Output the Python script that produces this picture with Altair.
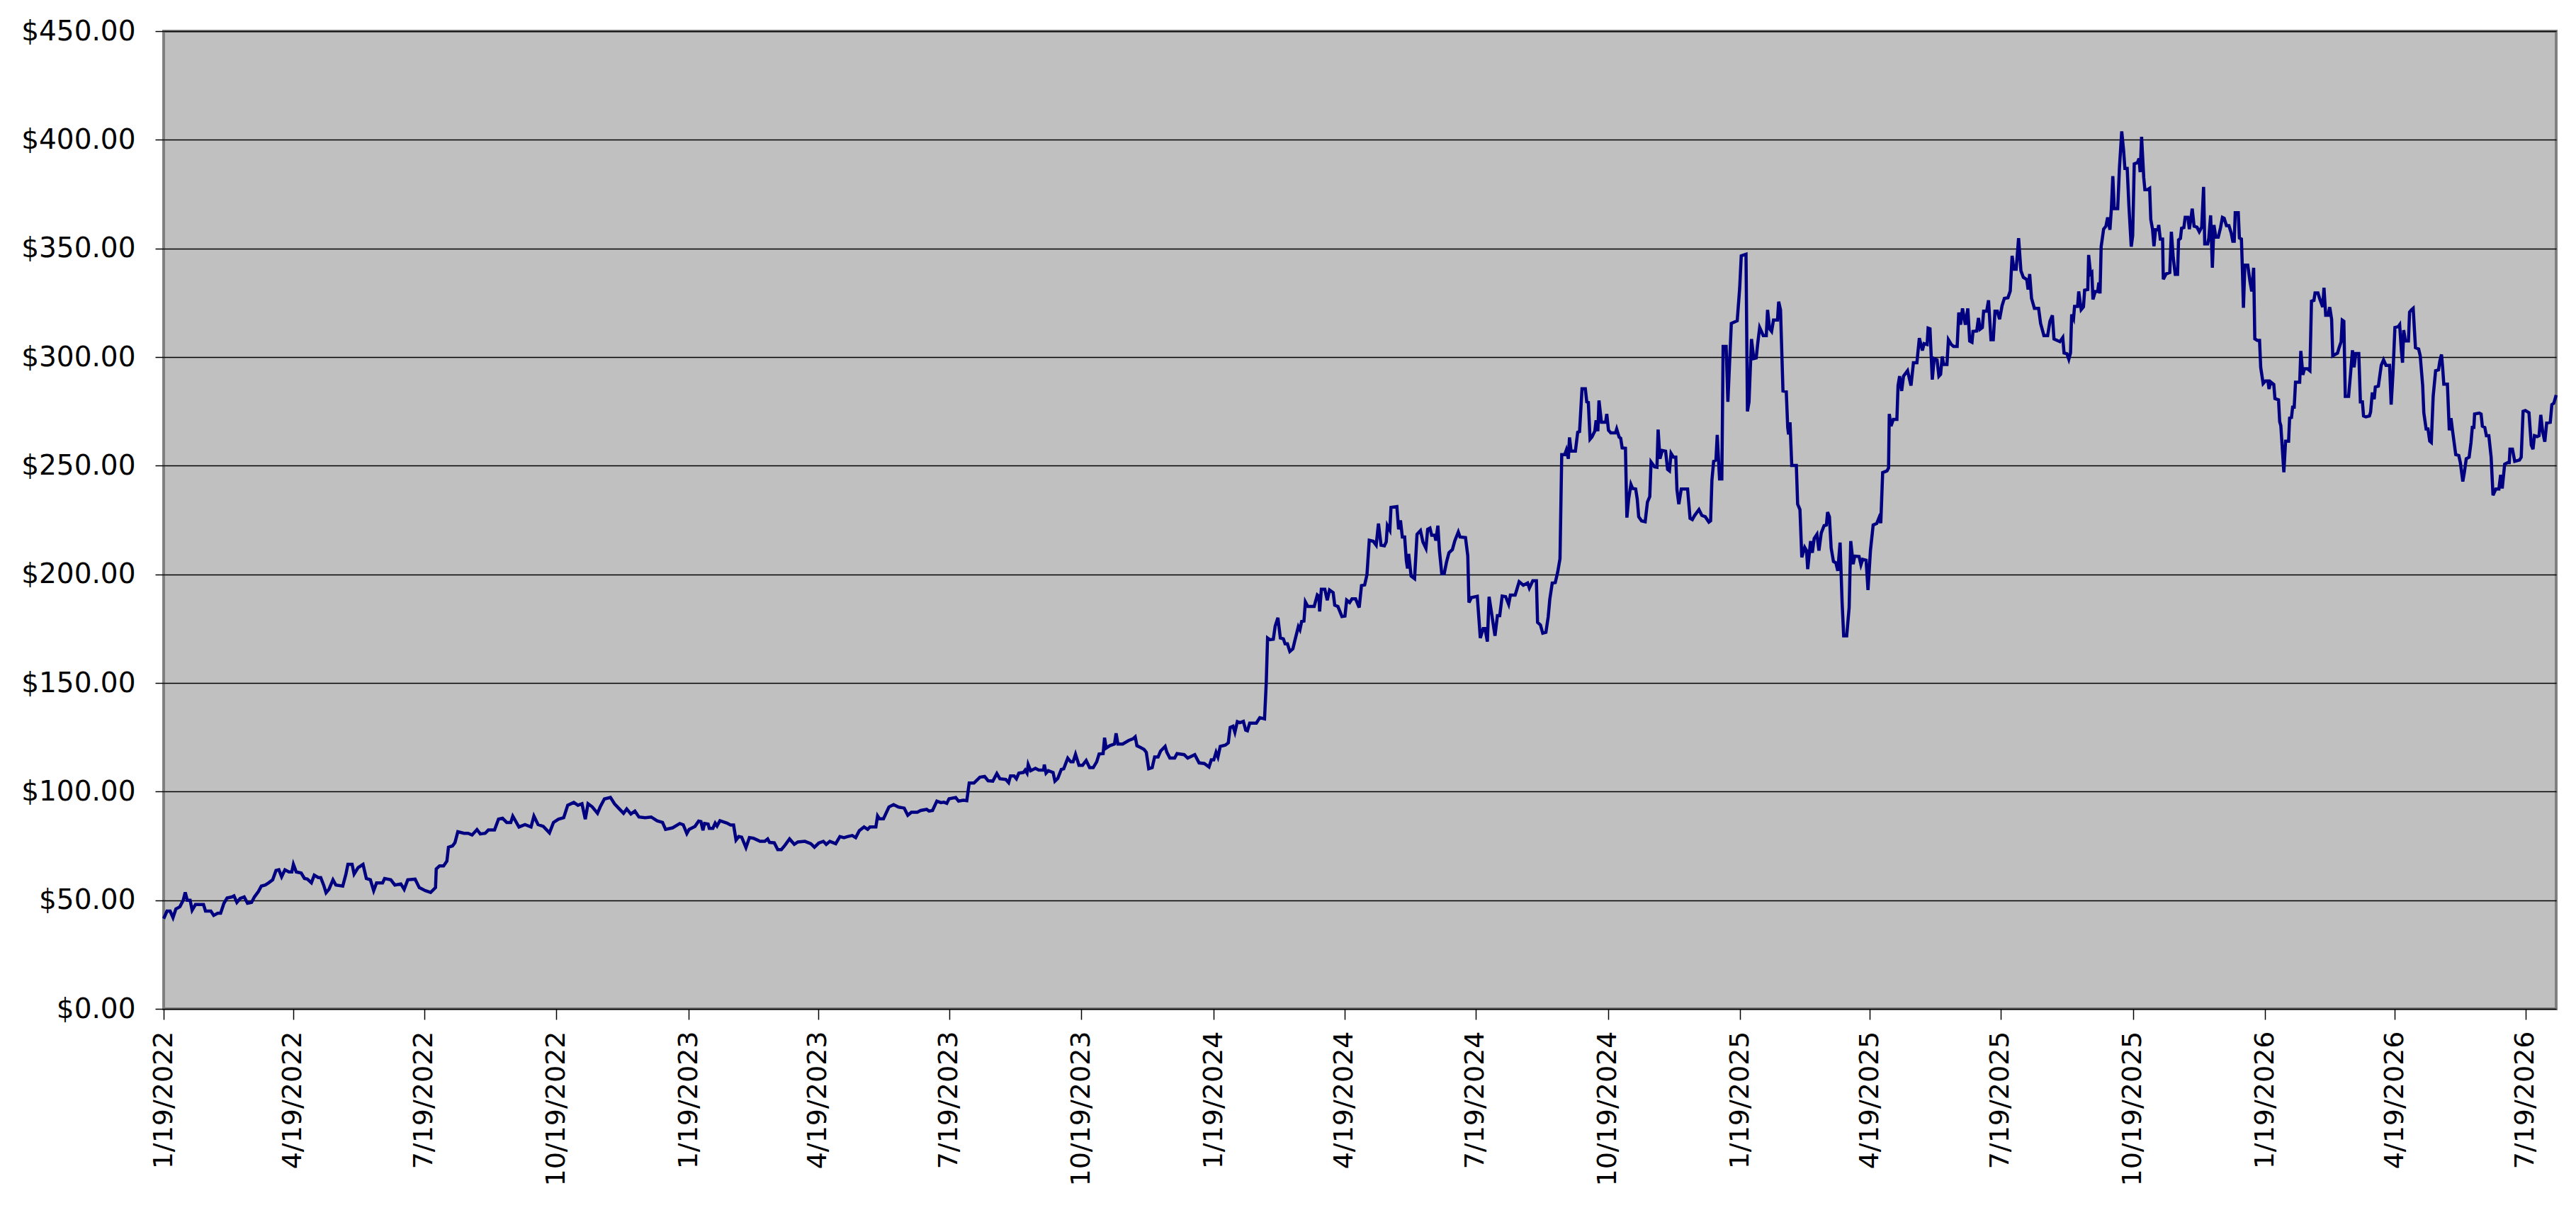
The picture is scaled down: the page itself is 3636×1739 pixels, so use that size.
import altair as alt
import pandas as pd

START_DATE = "2022-01-19"

# day offsets from START_DATE and closing prices, by period
days_a = [0, 2.3, 4.5, 6.5, 8.5, 11.3, 13.6, 15, 16.4, 18.4, 19.8, 22.1, 24.9, 27.7, 29.1, 32.8, 34.8, 37.6, 39.6,
          41.9, 44.1, 47.5, 48.9, 50.9, 53.2, 56, 58.3, 61.1, 63.1, 65.9, 67.9, 70.7, 73, 75.8, 78.1, 80.1, 82,
          84.3, 87.1, 89.1, 90.2, 92.2, 95.6, 97.9, 99.9, 102.7, 104.7, 107.5, 109.2, 111.2, 112.9, 114.9, 117.7,
          119.7, 124.5, 126.7, 128.1, 131, 132.4, 135.2, 138.6, 140.9, 143.7, 146, 148, 152.2, 153.6, 157.9,
          160.7, 164.9, 167.2, 169.7, 174.8, 177.7, 181.9, 185.6, 189, 189.5, 191.8, 194.6, 196.9, 198, 200.8,
          202.5, 204.5, 208.8, 211.6, 214.4, 217.8, 220.1, 223.5, 225.7, 230, 232.8, 235.6, 238.5, 241.3, 242.7,
          247, 251.2, 255.4, 257.4, 260.3, 263.9, 268.2, 271, 274.4, 278.1, 280.9, 285.1, 288, 290.8, 293.1, 295,
          297.9, 301.6, 303.5, 306.4, 310.6, 313.4, 316.8, 319.7, 321.9, 324.8, 327.6, 330.4, 334.7, 338.9,
          343.1, 346.8]
price_a = [41.5, 45, 45, 42, 46, 47, 50, 53.6, 50, 50, 45.4, 48, 48, 48, 45, 45, 43, 44, 44,
           48.6, 51, 51.5, 52, 49, 50.8, 51.5, 48.6, 49, 51.5, 54, 56.5, 57, 58, 59.4, 63.7, 64, 60.8,
           64, 63, 63, 66.5, 63, 62.5, 60, 59.7, 58, 61.5, 60.4, 60.4, 57, 53.4, 55, 59.4,
           57, 56.5, 62, 66.5, 66.5, 62, 65, 66.5, 60, 59.4, 54.4, 58, 58, 60, 59.4,
           57, 57.5, 55, 59.4, 59.7, 55.8, 54.4, 53.6, 55.8, 64.4, 65.8, 65.8, 68, 74.4, 75,
           76.5, 81.5, 80.8, 80.8, 80, 82.5, 80.5, 80.8, 82.3, 82.3, 87.3, 87.7, 85.8, 85.8, 88.7,
           83.7, 84.8, 83.7, 88.7, 84.8, 84, 81, 85.8, 87.3, 88, 93.7, 95, 93.7, 94.4, 87.3, 94.4,
           93, 90, 93, 96.6, 97.3, 94.4, 92, 90, 92, 89.7, 91, 88.3, 88, 88.3,
           86.5, 85.8]

days_b = [348.9, 353.8, 358.8, 361.2, 363.7, 365.3, 369.4, 371.9, 373.5, 374.9, 376, 378.5, 379.3, 381.8,
          383.4, 384.7, 386.7, 391.6, 394.1, 396.2, 397.9, 399.8, 401.8, 404.8, 407.2, 410, 412.1, 414.6,
          417.9, 419.9, 421.2, 424.5, 426.9, 429.4, 431.9, 435.1, 438.4, 440.9, 445.8, 449.9, 452.4, 455.4,
          458.6, 460.6, 463.1, 467.2, 470.1, 472.9, 475.4, 478.7, 481.1, 483.6, 486.9, 489.4, 491, 495.1,
          496.3, 497.6, 500.4, 504.2, 507.4, 510.7, 514.8, 517.3, 519.8, 523.9, 526.3, 530.4, 532.1, 534.5,
          537.5, 540.3, 542.4, 544.4, 546, 550.6, 552.6, 555.9]
price_b = [82.6, 83.3, 85.3, 84.7, 80.7, 82.6, 84, 86.4, 86.2, 82.2, 85.3, 85, 83.1, 83.1,
           85.5, 84.2, 86.6, 85.5, 84.6, 84.6, 77.7, 79.3, 79, 74.2, 78.8, 78.5, 77.9, 77.1,
           77.1, 78.2, 76.6, 76.4, 73.3, 73.3, 75.3, 78.2, 75.7, 76.8, 77.1, 76, 74.4, 76.3,
           77.1, 75.7, 77.1, 76, 79.3, 78.8, 79.3, 79.8, 78.8, 82, 83.7, 82.6, 83.7, 83.7,
           88.8, 87.5, 87.5, 92.9, 94, 92.9, 92.4, 89.1, 90.5, 90.5, 91.3, 91.8, 91, 91.3,
           95.6, 94.9, 95.1, 94.6, 96.7, 97.3, 95.6, 96]

days_c = [558.3, 560, 563.3, 567.4, 570.7, 573.1, 576.4, 579.2, 581.3, 585.4, 587.4, 588.7, 591.2, 592.8,
          594.5, 597.7, 598.9, 600.2, 601, 602.7, 606, 608.4, 611.7, 612.2, 613.4, 615, 618.3, 619.6, 621.6,
          624, 625.7, 628.5, 630.6, 632.2, 633.9, 636.3, 638.8, 641.3, 643.7, 646.2, 648.6, 650.3, 653.1,
          654.1, 655.2, 657.7, 661, 662.1, 663.4, 666.7, 670.8, 674.1, 675.4, 676.6, 679, 681.5, 683.1, 684.8,
          687.2, 688.9, 691.3, 693, 696.2, 697.4, 699.5, 702.8, 704.5, 709.4, 711.9, 716.8, 719.8, 723.4,
          726.7, 728.3, 730, 731.6, 732.9, 734.5, 738.1, 740.1, 741.4, 743.4, 744.7, 746.4]
price_c = [95.8, 103.9, 103.9, 106.6, 107, 105, 104.8, 108.3, 105.9, 105.6, 104.1, 107.2, 107.2, 105.9,
           108.5, 108.8, 109.9, 108.5, 112.4, 109.6, 110.7, 109.9, 109.9, 112.4, 108.5, 109.6, 108.8, 104.8, 106.1,
           110.2, 110.5, 115.4, 113.7, 113.7, 117.2, 112.1, 112.1, 114.3, 111, 111, 113.7, 117.3, 117.5,
           124.8, 120, 121.1, 121.9, 126.8, 121.9, 121.9, 123.5, 124.4, 125.2, 121.1, 120.3, 119.4, 118.1, 110.5,
           111, 115.9, 115.9, 118.6, 120.8, 118.1, 115.4, 115.4, 117.5, 117, 115.4, 117, 113.2, 112.9,
           111.3, 114.6, 114.6, 118.1, 115.9, 120.8, 121.4, 122.4, 129.5, 130.1, 127.3, 132.2]

days_d = [748.1, 750.6, 752.2, 753.4, 755, 759.6, 762, 765.3, 766.5, 767.4, 769.1, 771.4, 772.7, 774.6,
          776.3, 778.4, 779.6, 781.2, 782.9, 785, 786.6, 788.8, 789.9, 791.1, 792.7, 793.7, 795.4, 799.8, 802,
          803.1, 803.6, 804.8, 807.2, 808.9, 810.5, 813, 814.1, 816.3, 819.1, 821.2, 822.4, 824.5, 826.1,
          828.6, 831.1, 832.7, 834.9, 836.5, 838.1, 840.9, 842.9, 844.5, 846.3, 848.6, 849.9, 850.7, 852.4,
          853.2, 857.3, 858.5, 859.8, 861.1, 862.7, 863.9, 864.7, 865.5, 867.2, 869.6, 871.3, 873.7, 875.4,
          877.5, 878.7, 880.3, 881.5, 883.6, 884.4, 885.8, 886.9, 888.5, 890.2, 891.8, 893.5, 895.9, 897.6,
          900, 901.2, 905, 906.6, 907.4, 909.1, 913.2, 915.3, 917.3, 918.6, 920.2, 921.4]
price_d = [131.7, 132.3, 128.3, 128, 131.5, 131.5, 134, 133.5, 150.3, 170.7, 169.9, 170.1, 176.2, 180,
           170.7, 170.3, 168, 168, 164.5, 165.7, 170.1, 175.9, 174.5, 178.3, 178.5, 187.3, 185.2, 185.2, 190.5,
           189.9, 182.9, 193.1, 193.1, 188.1, 192.8, 191.6, 185.8, 185.2, 180.6, 180.8, 188.1, 187, 188.7,
           188.7, 184.7, 194.8, 195.1, 199.8, 215.7, 215.2, 213.4, 223.4, 213.4, 213.1, 214.9, 222.4, 220.3,
           230.8, 231.2, 220.7, 224.8, 217.2, 217.2, 206.2, 202.7, 209.4, 199.2, 198, 218.4, 220.1, 214.9,
           212, 220.7, 221.3, 218, 218, 215.5, 222.4, 210.8, 200.3, 200.3, 205.6, 209.9, 211.4, 215.5,
           219.5, 217.2, 216.9, 208.5, 187, 189.3, 189.9, 170.7, 175, 175, 169, 189.7]

days_e = [925.5, 927.2, 928.8, 930.5, 932.9, 935, 936.2, 939.5, 940.6, 942.3, 945.2, 948.2, 949.4, 951.8,
          954.3, 955.1, 957.1, 958.7, 960.9, 962.5, 963.6, 965.3, 967.4, 969.1, 970.7, 971.9, 974, 975.1,
          976.5, 977.3, 978.4, 981.4, 983, 984.3, 986, 988.3, 989.3, 990.4, 991.6, 992.9, 994.9, 995.8, 997,
          997.8, 999.5, 1002.4, 1003.2, 1004.4, 1006, 1009.3, 1010.1, 1011.8, 1012.9, 1013.9, 1016.2, 1017.2,
          1018.4, 1020, 1021.2, 1023.3, 1024.4, 1025.4, 1027.4, 1029.9, 1031.5, 1033.1, 1034, 1036.4, 1038.1,
          1038.9, 1040.2, 1041.8, 1044.1, 1045.5, 1046.8, 1047.9, 1049.6, 1051.2, 1052, 1053.3, 1055, 1059.4,
          1061.1, 1062.7, 1064.3, 1067.3, 1069.3, 1071.7, 1074.2, 1075.4, 1076.3, 1077.5, 1079.1, 1080, 1081.6,
          1083.2, 1084.1, 1086.2, 1087.4, 1089.8, 1093.9, 1095.6, 1096.7, 1100, 1101, 1102.1, 1103.8, 1105.4,
          1107.1, 1108.2, 1109.5, 1112, 1114.1, 1115, 1116.4]
price_e = [171.7, 181, 181, 190, 189.7, 186.2, 190.4, 190.4, 192.8, 196.6, 195, 196, 193.7, 197,
           197, 177.9, 176.7, 172.9, 173.3, 180.4, 188.5, 196, 196.2, 201, 207.2, 255.1, 255.1, 257.2,
           253.2, 263, 256.7, 256.7, 265.4, 265.7, 285.4, 285.4, 279.4, 279.1, 262.2, 263.2, 265.9, 270.9, 265.9,
           280, 270, 270, 273.8, 266.3, 265.1, 265.1, 266.9, 263.2, 262.6, 258.2, 258, 226.1,
           234.6, 241.4, 239.5, 239.3, 234.6, 226.5, 224.6, 224.2, 233.3, 235.8, 251.7, 249.5, 249.3,
           266.6, 253.2, 257, 256.7, 248.3, 247.6, 255.7, 253.9, 253.9, 238.9, 232.3, 239.3, 239.3,
           225.8, 225.2, 227.1, 229.8, 227.1, 226.5, 224, 224.6, 243.3, 252, 252.6, 264.2, 243.9,
           243.9, 304.9, 304.9, 279.4, 315.5, 316.7, 331.7, 346.6, 347.3, 275, 279.4, 308.3, 299.3,
           299.6, 306.5, 313.6, 309.9, 309.9, 321.7, 313]

days_f = [1117.8, 1119.1, 1121.9, 1122.7, 1124, 1125.7, 1128, 1129, 1129.6, 1130.6, 1131.8, 1135, 1135.9,
          1137.5, 1138.8, 1140.8, 1142.1, 1142.9, 1144.9, 1146.1, 1147.4, 1149.3, 1150.7, 1152.3, 1154.3,
          1155.9, 1156.7, 1158, 1159.2, 1160.8, 1162.5, 1163.8, 1165.4, 1166.8, 1167.9, 1170, 1171.7, 1172.8,
          1174.5, 1175.6, 1178.6, 1179.9, 1181.1, 1183.5, 1184.8, 1186.5, 1188.4, 1190.9, 1192.5, 1193.7, 1195,
          1198, 1199.1, 1199.6, 1200.8, 1202.4, 1204.9, 1205.7, 1206.8, 1208.2, 1209.5, 1212.3, 1214.7, 1216.4,
          1218.8, 1220.5, 1222.6, 1223.8, 1225.9, 1226.6, 1227.9, 1229.5, 1230.8, 1232.8, 1234.1, 1235.3,
          1236.4, 1237.4, 1239.7, 1240.7, 1242.7, 1244.3, 1246.8, 1247.9, 1249.2, 1250.5, 1252.5, 1254.2,
          1255.5, 1257.1, 1257.8, 1260.4, 1261.6, 1262.7, 1264.3, 1265.2, 1267.3, 1268.6, 1270.3, 1271.9,
          1273.1, 1274.7, 1276.3, 1278, 1279.6, 1282.1, 1283.7, 1285, 1286.2, 1287.8, 1289.5, 1291.1, 1292.8,
          1295.2, 1296.1, 1297.2, 1298.5, 1300.5, 1303.4, 1304.8, 1307.1, 1309.7, 1311.3, 1313, 1314.1]
price_f = [311.8, 317, 317, 325.5, 321.7, 284.4, 284.1, 267.6, 264.4, 270, 250.1, 250.1, 232.3,
           229.8, 207.8, 212.4, 210.9, 202.4, 215.3, 209.9, 216.5, 218.4, 210.9, 219, 222.4,
           222.7, 228.6, 226.5, 212.1, 205.9, 205.3, 201.6, 214.6, 187.2, 171.7, 171.7, 184.7, 215.3,
           204.7, 208.4, 208.2, 204.4, 206.9, 206.5, 192.8, 210.9, 222.7, 223.4, 226.1, 223.6, 246.8,
           247.6, 248.9, 273.8, 268.2, 271.3, 271.3, 286.9, 291.2, 284.4, 291.2, 293.7, 286.9, 297.4,
           297.4, 308.7, 303, 306.2, 305.8, 313.3, 313, 289.6, 299.3, 298.7, 291.2, 292.1,
           300.3, 296.6, 296.6, 308, 305.8, 304.9, 304.9, 320.5, 314.9, 322.4, 314.9, 322.4,
           307.4, 306.8, 311.8, 312, 318, 312.8, 313.6, 321.1, 321.1, 326.1, 308, 308,
           321.1, 321.1, 317.4, 323.6, 327, 327.3, 330.4, 346.6, 340.4, 340.4, 354.7, 339.8, 336.7,
           335.7, 331.1, 338.2, 327, 322.4, 322.4, 315.5, 309.9, 309.9, 316.5, 319.2, 308.3]

days_g = [1318.2, 1320.2, 1321.1, 1323.1, 1324.4, 1325.6, 1326.4, 1327.7, 1328.4, 1330.5, 1331.3, 1333,
          1334.6, 1335.4, 1337.6, 1338.2, 1339.5, 1340.4, 1341.2, 1342.8, 1344.5, 1345.3, 1346.1, 1346.9,
          1348.6, 1350.2, 1351.4, 1353, 1354, 1355, 1356, 1358.4, 1359.6, 1361.2, 1362.5, 1363.4, 1365, 1366.2,
          1367.8, 1368.8, 1369.9, 1372.1, 1373.2, 1374, 1375, 1376.5, 1377.3, 1379, 1380.6, 1381.4, 1382.6,
          1383.6, 1384.7, 1386.4, 1386.9, 1388, 1389.6, 1390.1, 1392.1, 1394.6, 1395.7, 1397, 1398.4, 1400,
          1400.7, 1402, 1402.8, 1404.4, 1405.3, 1407.2, 1408.2, 1409.4, 1410.2, 1411.5, 1413.5, 1415.1, 1416.8,
          1418.1, 1418.9, 1420.9, 1421.7, 1423, 1424.2, 1425.3, 1426.6, 1428.3, 1429.9, 1431.2, 1432.4, 1434,
          1435.7, 1437.3, 1438.4, 1439.4, 1440.1, 1442.2, 1443, 1444.4, 1445, 1445.8, 1446.8, 1448.8, 1450.4,
          1451.6, 1452.9, 1453.7, 1455.4, 1457, 1457.8, 1459.5, 1461.1, 1462.8, 1463.6, 1464.7, 1466.9,
          1467.7, 1470.2, 1471, 1471.8]
price_g = [307.1, 309, 301.9, 301.5, 299, 301.9, 319.6, 317.7, 323.3, 323.3, 330.2, 321.8,
           323.1, 330.8, 331.1, 347, 338.3, 338.9, 326.5, 330.2, 330.2, 334.3, 329.3, 350.8,
           358.9, 360.2, 364.3, 358.6, 368.3, 383.3, 368.3, 368.3, 387, 403.9, 395.1, 386.8, 386.8, 369.5,
           350.8, 355.8, 388.9, 389.5, 391.4, 385.1, 401.4, 382.6, 377, 377, 377.7, 363.3, 358.9,
           351, 358.6, 358.6, 360.8, 354.3, 354.3, 335.8, 338.3, 338.9, 357.7, 345.8, 338.1, 338.1,
           353.9, 354.6, 359.3, 359.6, 364.3, 364.3, 358.9, 364.3, 368.3, 360.2, 359.8, 357.7, 359.8,
           378.3, 352.1, 352.1, 354.6, 365.2, 341.1, 360.8, 355.2, 355.2, 359.6, 364.3, 363.9, 360.5,
           360.5, 357.1, 353.3, 353.3, 366.4, 366.4, 354.8, 354.3, 342.1, 322.7, 342.3, 342.3, 334.6,
           330.2, 341.1, 308.4, 307.7, 307.7, 295.3, 287.8, 289, 289, 285.3, 288.6, 287.4,
           280.9, 280.3, 270.3, 268.4]

days_h = [1473.9, 1475.1, 1477.2, 1477.9, 1479.2, 1480, 1481.1, 1482, 1484.9, 1485.7, 1487.1, 1488.2, 1490.3,
          1492, 1493.1, 1494.8, 1495.6, 1497.6, 1498.9, 1500.9, 1501.8, 1503, 1504.6, 1505.8, 1507.1, 1507.9,
          1511.2, 1512.4, 1513.7, 1514.5, 1515.6, 1516.6, 1518.9, 1520.2, 1521.6, 1522.7, 1523.9, 1526, 1527.1,
          1528.5, 1529.3, 1530.9, 1533.4, 1534.2, 1535.4, 1536.7, 1537.5, 1539.6, 1541.6, 1543.2, 1544.9,
          1547.4, 1548.5, 1549.8, 1551.1, 1553.4, 1554.4, 1555.6, 1556.4, 1557.2, 1558.4, 1560.5, 1561.3,
          1562.6, 1563.8, 1565.4, 1567.6, 1568.7, 1570.4, 1571.2, 1572.8, 1574.1, 1575.3, 1576.4, 1577.7,
          1579.4, 1581.4, 1582.3, 1583.5, 1584.3, 1585.1, 1587.6, 1588.9, 1590.1, 1591.2, 1593.4, 1595.5,
          1596.6, 1598.3, 1599.4, 1600.7, 1602.7, 1604, 1604.9, 1606, 1606.5, 1609.8, 1611, 1611.9, 1613.6,
          1614.7, 1616.4, 1618, 1619.3, 1621.3, 1623.4, 1624.6, 1625.7, 1627.4, 1629.5, 1630.6, 1631.1,
          1632.8, 1634.4, 1637.7, 1638.9, 1640.2, 1641.8, 1644.3, 1645.9, 1647.1, 1648.1, 1650, 1651.3,
          1652.5, 1653.8, 1655.3, 1656.6, 1659.1, 1660.2, 1661.6, 1663.2]
price_h = [247, 261.3, 261.3, 271.9, 272.2, 276.9, 276.9, 288.4, 288.4, 302.8, 291.8, 294.6, 294.6,
           293.7, 325.7, 326.1, 329.5, 329.5, 326.7, 323, 331.9, 319.2, 319.2, 323, 317.4, 300.6,
           301.8, 304.5, 307, 317, 316.5, 281.9, 281.9, 291.8, 303.1, 295.3, 301.6, 301.6, 279.4,
           279.4, 272.9, 272.5, 272.9, 274.7, 283.7, 280.6, 286.2, 286.6, 296.2, 298.7, 296.2,
           296.2, 278.1, 293.1, 313.6, 314, 314.9, 303, 297.4, 312.4, 307.4, 307.4, 320.7,
           321.7, 322.4, 304.3, 303.7, 300.6, 286.9, 274.4, 266.9, 266.9, 261.3, 260.7, 281.9,
           293.7, 294.1, 298.1, 301.2, 295, 287.5, 287.5, 266.3, 271.9, 265.9, 255.1, 254.7,
           251.4, 242.7, 247, 253.2, 253.9, 260.7, 267.6, 267.6, 273.8, 274.2, 273.8, 268.2, 267.6,
           263.8, 263.8, 253.9, 236.4, 239.3, 239.3, 245.8, 239.5, 250.7, 251.4, 251.4, 257.6,
           257.6, 252, 252.6, 253.9, 275, 275.4, 274.4, 259.5, 257.6, 263.8, 263.4, 263.8,
           273.4, 265.7, 261, 269.7, 270, 278.1, 278.8, 282.5]

TICK_DATES = ["2022-01-19", "2022-04-19", "2022-07-19", "2022-10-19",
              "2023-01-19", "2023-04-19", "2023-07-19", "2023-10-19",
              "2024-01-19", "2024-04-19", "2024-07-19", "2024-10-19",
              "2025-01-19", "2025-04-19", "2025-07-19", "2025-10-19",
              "2026-01-19", "2026-04-19", "2026-07-19"]
Y_TICKS = [0, 50, 100, 150, 200, 250, 300, 350, 400, 450]

all_days = days_a + days_b + days_c + days_d + days_e + days_f + days_g + days_h
all_prices = price_a + price_b + price_c + price_d + price_e + price_f + price_g + price_h

df = pd.DataFrame({
    "date": pd.Timestamp(START_DATE) + pd.to_timedelta(all_days, unit="D"),
    "price": all_prices,
})

tick_values = []
for s in TICK_DATES:
    y, m, d = (int(p) for p in s.split("-"))
    tick_values.append(alt.DateTime(year=y, month=m, date=d))

FONT = "DejaVu Sans"

chart = alt.Chart(df).mark_line(color="#000080", strokeWidth=4.5, interpolate="linear").encode(
    x=alt.X("date:T",
            scale=alt.Scale(nice=False),
            axis=alt.Axis(title=None, values=tick_values, format="%-m/%-d/%Y",
                          labelAngle=270, labelAlign="right", labelBaseline="middle",
                          labelFont=FONT, labelFontSize=38, labelColor="#000000",
                          labelPadding=16, labelOverlap=False, labelFlush=False, labelLimit=1000,
                          tickSize=15, tickColor="#000000", tickWidth=1.5,
                          grid=False, domain=False)),
    y=alt.Y("price:Q",
            scale=alt.Scale(domain=[0, 450], nice=False, zero=True),
            axis=alt.Axis(title=None, values=Y_TICKS, format="$.2f",
                          labelFont=FONT, labelFontSize=39, labelColor="#000000",
                          labelPadding=28, labelFlush=False, labelOverlap=False, labelLimit=1000,
                          tickSize=12, tickColor="#000000", tickWidth=1.5,
                          grid=True, gridColor="#000000", gridWidth=1.5, gridOpacity=1,
                          domain=False)),
).properties(
    width=3377,
    height=1380,
    autosize=alt.AutoSizeParams(type="none"),
    padding={"left": 223, "top": 36, "right": 20, "bottom": 300},
    background="#FFFFFF",
).configure_view(
    fill="#C0C0C0",
    stroke="#808080",
    strokeWidth=4,
)

chart.save("out.html", embed_options={"renderer": "svg", "actions": False})
